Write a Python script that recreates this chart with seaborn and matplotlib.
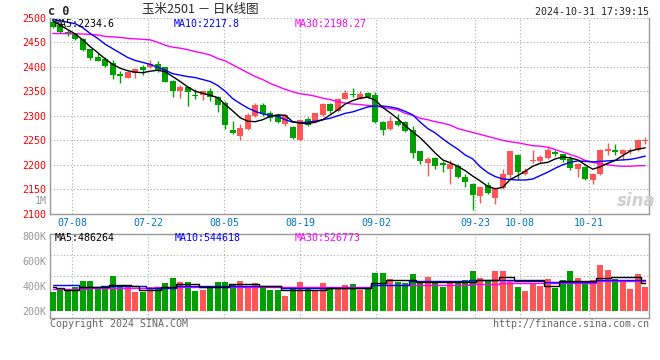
import numpy as np
import pandas as pd
import matplotlib as mpl
mpl.use("Agg")
from matplotlib import pyplot as plt
import seaborn as sns

# ---- data ----
open_ = [2492, 2485, 2472, 2468, 2457, 2436, 2420, 2415, 2407, 2386,
         2378, 2388, 2399, 2400, 2406, 2399, 2372, 2350, 2358, 2343,
         2342, 2350, 2338, 2326, 2272, 2258, 2274, 2299, 2322, 2305,
         2301, 2284, 2277, 2250, 2294, 2288, 2301, 2325, 2309, 2335,
         2345, 2335, 2346, 2343, 2287, 2274, 2290, 2287, 2272, 2228,
         2203, 2213, 2203, 2191, 2197, 2176, 2161, 2137, 2159, 2132,
         2153, 2179, 2221, 2181, 2208, 2208, 2213, 2227, 2222, 2211,
         2191, 2196, 2169, 2181, 2229, 2230, 2223, 2229, 2230, 2248]
high = [2495, 2487, 2475, 2470, 2458, 2437, 2428, 2421, 2414, 2391,
        2392, 2397, 2403, 2414, 2412, 2400, 2373, 2363, 2359, 2355,
        2353, 2357, 2340, 2331, 2290, 2284, 2305, 2326, 2326, 2309,
        2304, 2304, 2279, 2293, 2297, 2306, 2327, 2327, 2337, 2352,
        2357, 2351, 2348, 2349, 2289, 2299, 2304, 2290, 2280, 2229,
        2216, 2215, 2208, 2209, 2201, 2182, 2162, 2155, 2164, 2155,
        2191, 2229, 2223, 2193, 2230, 2220, 2236, 2230, 2223, 2218,
        2203, 2198, 2184, 2232, 2244, 2242, 2232, 2234, 2252, 2257]
low = [2479, 2470, 2463, 2455, 2432, 2414, 2411, 2400, 2376, 2367,
       2377, 2378, 2383, 2398, 2390, 2369, 2338, 2336, 2320, 2335,
       2332, 2330, 2308, 2274, 2263, 2250, 2272, 2298, 2300, 2289,
       2285, 2280, 2252, 2249, 2280, 2286, 2299, 2305, 2307, 2334,
       2338, 2334, 2336, 2285, 2260, 2272, 2279, 2267, 2213, 2201,
       2178, 2192, 2186, 2161, 2173, 2154, 2107, 2122, 2140, 2120,
       2151, 2171, 2171, 2180, 2203, 2203, 2211, 2218, 2205, 2190,
       2176, 2169, 2161, 2179, 2220, 2220, 2210, 2222, 2228, 2242]
close = [2482, 2472, 2466, 2457, 2434, 2418, 2412, 2402, 2384, 2381,
         2390, 2396, 2394, 2406, 2392, 2370, 2350, 2358, 2349, 2340,
         2351, 2338, 2322, 2281, 2264, 2276, 2301, 2322, 2303, 2296,
         2287, 2301, 2254, 2292, 2282, 2305, 2325, 2309, 2335, 2346,
         2342, 2345, 2338, 2287, 2272, 2289, 2282, 2269, 2225, 2208,
         2211, 2198, 2200, 2201, 2176, 2165, 2139, 2154, 2142, 2152,
         2181, 2228, 2186, 2188, 2210, 2215, 2230, 2223, 2210, 2193,
         2201, 2171, 2182, 2230, 2232, 2226, 2230, 2230, 2250, 2250]
ma5 = [2494, 2485, 2476, 2467, 2455, 2441, 2429, 2416, 2405, 2397,
       2392, 2389, 2388, 2391, 2393, 2390, 2380, 2370, 2359, 2350,
       2346, 2342, 2337, 2323, 2310, 2296, 2289, 2288, 2292, 2299,
       2302, 2301, 2288, 2285, 2284, 2287, 2292, 2302, 2312, 2324,
       2331, 2336, 2338, 2332, 2317, 2306, 2294, 2280, 2267, 2255,
       2240, 2224, 2210, 2204, 2197, 2188, 2177, 2167, 2156, 2151,
       2154, 2170, 2178, 2187, 2197, 2203, 2205, 2212, 2216, 2214,
       2210, 2200, 2191, 2196, 2203, 2209, 2219, 2228, 2232, 2234.6]
ma10 = [2497, 2494, 2491, 2488, 2480, 2468, 2458, 2446, 2437, 2428,
        2419, 2413, 2409, 2405, 2399, 2393, 2386, 2383, 2380, 2378,
        2374, 2370, 2362, 2350, 2335, 2325, 2316, 2309, 2304, 2301,
        2299, 2292, 2287, 2286, 2287, 2289, 2292, 2295, 2300, 2305,
        2308, 2313, 2318, 2320, 2320, 2318, 2315, 2309, 2302, 2287,
        2274, 2265, 2253, 2242, 2232, 2220, 2212, 2196, 2184, 2176,
        2171, 2170, 2169, 2169, 2171, 2178, 2185, 2193, 2200, 2205,
        2208, 2207, 2206, 2207, 2208, 2209, 2210, 2211, 2214, 2217.8]
ma30 = [2468, 2468, 2467.5, 2467, 2467, 2466, 2465, 2462, 2461, 2460,
        2458, 2457, 2456, 2455, 2450, 2444, 2440, 2438, 2435, 2431,
        2428, 2424, 2417, 2412, 2404, 2396, 2388, 2380, 2374, 2366,
        2360, 2354, 2349, 2345, 2343, 2340, 2336, 2333, 2329, 2326,
        2324, 2323, 2321, 2320, 2317, 2315, 2312, 2305, 2301, 2295,
        2292, 2288, 2285, 2281, 2274, 2270, 2266, 2262, 2258, 2254,
        2250, 2247, 2245, 2242, 2239, 2238, 2236, 2231, 2226, 2221,
        2216, 2209, 2205, 2202, 2200, 2198, 2197, 2197, 2198, 2198.27]

# volume in thousands of lots
vol = [352, 371, 371, 387, 438, 438, 387, 387, 478, 398,
       398, 350, 350, 387, 371, 422, 462, 430, 430, 358,
       366, 387, 430, 430, 414, 438, 387, 422, 398, 366,
       366, 318, 379, 430, 379, 366, 422, 379, 379, 406,
       414, 366, 379, 504, 504, 454, 427, 419, 494, 419,
       470, 422, 390, 438, 419, 446, 520, 462, 438, 520,
       520, 446, 390, 360, 422, 398, 454, 382, 446, 520,
       462, 422, 446, 566, 526, 454, 438, 374, 494, 392]
vol_ma5 = [387, 379, 366, 366, 387, 387, 387, 387, 406, 406,
           406, 398, 366, 366, 366, 392, 392, 411, 411, 411,
           387, 387, 387, 387, 411, 411, 411, 411, 398, 398,
           398, 366, 366, 366, 366, 366, 366, 379, 379, 379,
           379, 379, 379, 419, 419, 446, 446, 446, 446, 432,
           432, 432, 432, 427, 427, 427, 427, 446, 446, 446,
           472, 472, 446, 446, 446, 446, 398, 398, 438, 438,
           438, 438, 438, 459, 459, 467, 467, 467, 467, 424]
vol_ma10 = [405, 405, 405, 405, 387, 387, 387, 395, 395, 395,
            395, 395, 395, 385, 385, 385, 385, 398, 398, 398,
            398, 398, 398, 398, 398, 398, 398, 398, 398, 398,
            398, 380, 380, 380, 380, 380, 380, 380, 379, 379,
            379, 379, 379, 406, 406, 406, 406, 406, 438, 438,
            438, 438, 438, 438, 438, 438, 446, 446, 446, 446,
            446, 446, 438, 438, 438, 438, 427, 427, 427, 427,
            427, 427, 427, 446, 446, 446, 446, 446, 446, 446]
vol_ma30 = [371, 371, 371, 371, 371, 379, 379, 379, 379, 379,
            379, 379, 379, 379, 387, 387, 387, 387, 387, 387,
            387, 387, 387, 387, 387, 387, 387, 387, 387, 387,
            387, 387, 387, 387, 387, 387, 387, 387, 387, 387,
            387, 387, 387, 406, 406, 406, 406, 406, 406, 406,
            406, 406, 406, 406, 406, 406, 414, 414, 414, 414,
            424, 424, 424, 424, 424, 424, 424, 424, 424, 424,
            424, 424, 424, 438, 438, 438, 438, 438, 438, 438]

date_labels = ["07-08", "07-22", "08-05", "08-19", "09-02", "09-23", "10-08", "10-21"]
date_pos = [2.6, 12.75, 22.9, 33.0, 43.1, 56.3, 62.3, 71.5]

# ---- style ----
sns.set_theme(style="white")
plt.rcParams["font.family"] = ["DejaVu Sans Mono", "Noto Sans CJK SC"]
plt.rcParams["axes.edgecolor"] = "#999999"
plt.rcParams["axes.linewidth"] = 1.0

RED = "#FF5555"
GREEN = "#00A000"
GRID = dict(color="#AAAAAA", linestyle=(0, (1, 2)), linewidth=0.8)
FS = 7.2

W, H = 660, 360


def box(left, top, right, bottom):
    return [left / W, 1 - bottom / H, (right - left) / W, (bottom - top) / H]


def at(x, y):
    return x / W, 1 - y / H


df = pd.DataFrame({"day": np.arange(len(close)), "open": open_, "high": high,
                   "low": low, "close": close, "ma5": ma5, "ma10": ma10,
                   "ma30": ma30, "vol": vol, "vma5": vol_ma5,
                   "vma10": vol_ma10, "vma30": vol_ma30})
colors = np.where(df["close"] >= df["open"], RED, GREEN)

fig = plt.figure(figsize=(6.6, 3.6), dpi=100)
ax = fig.add_axes(box(50, 17.8, 649, 213.8))
axv = fig.add_axes(box(50, 234.3, 649, 317.7))

# candles
ax.vlines(df["day"], df["low"], df["high"], colors=colors, linewidth=1, zorder=3)
body = (df["close"] - df["open"]).abs().clip(lower=2)
ax.bar(df["day"], body, bottom=df[["open", "close"]].min(axis=1), width=0.8,
       color=colors, linewidth=0, zorder=4)

for col, c in [("ma30", "#FF00FF"), ("ma10", "#0000FF"), ("ma5", "black")]:
    sns.lineplot(data=df, x="day", y=col, color=c, linewidth=1, ax=ax, zorder=5)

# volume
VOL_BASE = 200
axv.bar(df["day"], df["vol"] - VOL_BASE, bottom=VOL_BASE, width=0.8,
        color=colors, linewidth=0, zorder=3)
for col, c in [("vma30", "#FF00FF"), ("vma10", "#0000FF"), ("vma5", "black")]:
    sns.lineplot(data=df, x="day", y=col, color=c, linewidth=1, ax=axv,
                 drawstyle="steps-mid", zorder=5)

# axes cosmetics
for a in (ax, axv):
    a.set_xlim(-0.36, 79.5)
    a.set_xlabel("")
    a.set_ylabel("")
    a.set_xticks(date_pos)
    a.grid(True, axis="x", **GRID)

ax.set_ylim(2100, 2500)
ax.set_yticks(range(2100, 2501, 50))
ax.grid(True, axis="y", **GRID)
ax.set_xticklabels(date_labels)
ax.tick_params(axis="x", length=0, pad=3, labelcolor="#0077CC", labelsize=FS)
ax.tick_params(axis="y", length=0, pad=2.5, labelcolor="#FF0000", labelsize=FS)
ax.spines["top"].set_visible(False)

axv.set_ylim(144, 811.2)
axv.set_yticks([200, 400, 600, 800], ["200K", "400K", "600K", "800K"])
axv.set_xticklabels([])
axv.tick_params(axis="x", length=0)
axv.tick_params(axis="y", length=0, pad=2.5, labelcolor="#999999", labelsize=FS)
for f in (0.25, 0.5, 0.75):
    axv.plot([0, 1], [f, f], transform=axv.transAxes, zorder=1, **GRID)

# texts
fig.text(*at(48, 11.5), "c 0", fontsize=8.5, fontweight="bold", va="center", ha="left")
fig.text(*at(200, 9), "玉米2501 － 日K线图", fontsize=9, va="center", ha="center",
         family=["Noto Sans CJK SC"])
fig.text(*at(649, 12.2), "2024-10-31 17:39:15", fontsize=FS, va="center", ha="right")

for x, s, c in [(55, "MA5:2234.6", "black"), (174, "MA10:2217.8", "#0000FF"),
                (294.7, "MA30:2198.27", "#FF00FF")]:
    fig.text(*at(x, 23.7), s, color=c, fontsize=FS, va="center", ha="left")
for x, s, c in [(55, "MA5:486264", "black"), (174.3, "MA10:544618", "#0000FF"),
                (294.7, "MA30:526773", "#FF00FF")]:
    fig.text(*at(x, 238), s, color=c, fontsize=FS, va="center", ha="left")

fig.text(*at(46.7, 200.7), "1M", color="#999999", fontsize=FS, va="center", ha="right")
fig.text(*at(50, 324), "Copyright 2024 SINA.COM", color="#666666", fontsize=FS,
         va="center", ha="left")
fig.text(*at(649, 324), "http://finance.sina.com.cn", color="#666666", fontsize=FS,
         va="center", ha="right")
fig.text(*at(636, 201), "sina", color="#D0D0D0", fontsize=12, fontweight="bold",
         style="italic", va="center", ha="center", family=["DejaVu Sans"], zorder=0)

fig.savefig("out.png", dpi=100)
